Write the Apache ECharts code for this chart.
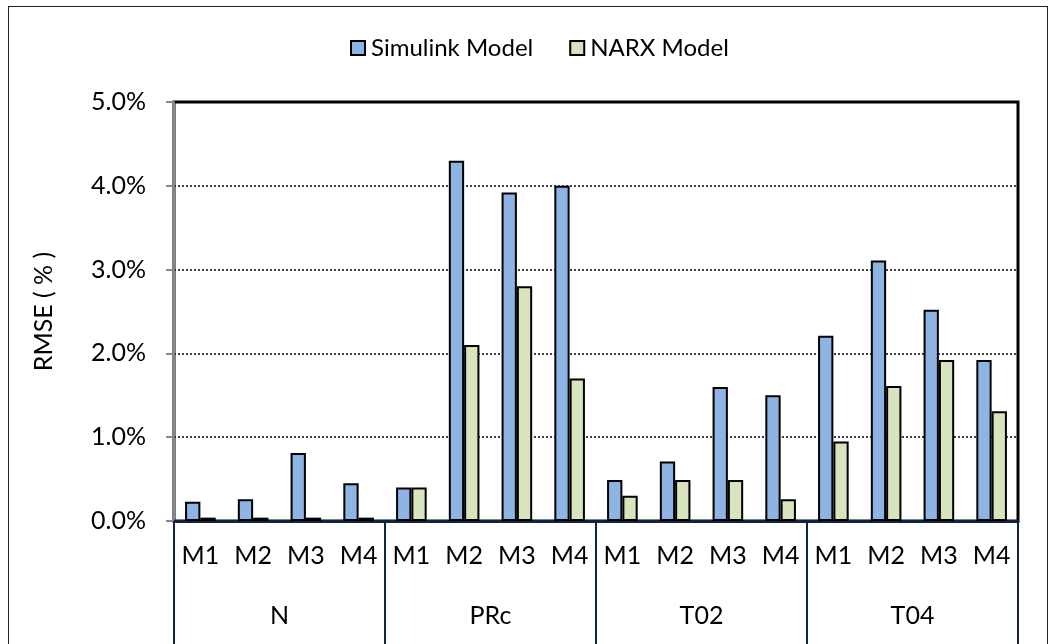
<!DOCTYPE html>
<html><head><meta charset="utf-8">
<script src="https://cdn.jsdelivr.net/npm/echarts@6/dist/echarts.min.js"></script>
<style>
html,body{margin:0;padding:0;background:#fff;}
#c{width:1055px;height:644px;position:relative;}
#frame{position:absolute;left:8px;top:6px;width:1038px;height:700px;border:1.5px solid #222;pointer-events:none;}
</style></head>
<body>
<div id="c"></div>
<div id="frame"></div>
<script>
const groups = ['N','PRc','T02','T04'];
const models = ['M1','M2','M3','M4'];
const categories = ['M1','M2','M3','M4','M1','M2','M3','M4','M1','M2','M3','M4','M1','M2','M3','M4'];
const simulink = [0.23,0.26,0.81,0.45, 0.40,4.30,3.92,4.00, 0.49,0.71,1.60,1.50, 2.21,3.11,2.52,1.92];
const narx     = [0.04,0.04,0.04,0.04, 0.40,2.10,2.80,1.70, 0.30,0.49,0.49,0.26, 0.95,1.61,1.92,1.31];
const yTicks = [0,1,2,3,4,5];

const font = 'Lato, "Liberation Sans", sans-serif';
const chart = echarts.init(document.getElementById('c'));
chart.setOption({
  animation:false,
  textStyle:{fontFamily:font},
  legend:{
    top:31, left:345,
    icon:'rect',
    itemWidth:14, itemHeight:14, itemGap:36,
    textStyle:{fontSize:24, color:'#000', fontFamily:font, padding:[0,0,0,1]},
    data:[{name:'Simulink Model', itemStyle:{borderColor:'#000',borderWidth:2}},
          {name:'NARX Model', itemStyle:{borderColor:'#000',borderWidth:2}}]
  },
  grid:{left:174, right:37, top:102, bottom:123, show:true, borderColor:'#000', borderWidth:3},
  xAxis:[
    {type:'category', data:categories, position:'bottom',
     axisLine:{lineStyle:{color:'#0f2440', width:3}},
     axisTick:{show:false},
     axisLabel:{fontSize:25, color:'#000', margin:22, fontFamily:font}},
    {type:'category', data:groups, position:'bottom', boundaryGap:true,
     axisLine:{show:false},
     axisTick:{show:true, length:130, lineStyle:{color:'#0f2440', width:2}},
     axisLabel:{fontSize:25, color:'#000', margin:82, fontFamily:font}}
  ],
  yAxis:{
    type:'value', min:0, max:5, interval:1,
    name:'RMSE ( % )', nameLocation:'middle', nameGap:118, nameMoveOverlap:false,
    nameTextStyle:{fontSize:25, color:'#000', fontFamily:font},
    axisLine:{show:true, lineStyle:{color:'#868686', width:2}},
    axisTick:{show:true, length:8, lineStyle:{color:'#868686', width:2}},
    axisLabel:{fontSize:25, color:'#000', margin:28, fontFamily:font,
      formatter:v=>v.toFixed(1)+'%'},
    splitLine:{show:true, lineStyle:{color:'#000', type:[2,2], width:1.5}}
  },
  series:[
    {name:'Simulink Model', type:'bar', xAxisIndex:0, data:simulink,
     barWidth:'29%', barGap:'0%',
     itemStyle:{color:'#8eb4e3', borderColor:'#000', borderWidth:2}},
    {name:'NARX Model', type:'bar', xAxisIndex:0, data:narx,
     barWidth:'29%', barGap:'0%',
     itemStyle:{color:'#d7e4bd', borderColor:'#000', borderWidth:2}}
  ]
});
</script>
</body></html>
